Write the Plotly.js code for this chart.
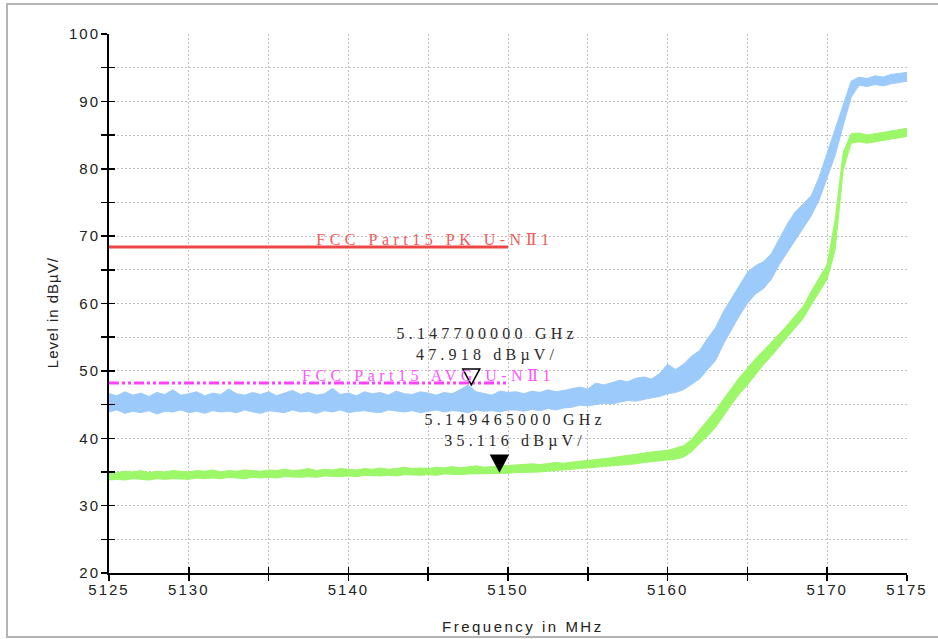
<!DOCTYPE html>
<html><head><meta charset="utf-8">
<script src="https://cdn.plot.ly/plotly-3.0.1.min.js"></script>
<style>
html,body{margin:0;padding:0;background:#fff;overflow:hidden}
#wrap{position:relative;width:938px;height:639px}
#chart{position:absolute;left:0;top:0;width:938px;height:639px}
#frame{position:absolute;left:6px;top:3px;width:940px;height:635px;border-left:2px solid #b4b4b4;border-top:2px solid #b4b4b4;border-bottom:2px solid #b4b4b4;pointer-events:none;box-sizing:border-box}
.xtick text,.ytick text{letter-spacing:2px}
</style>
</head><body>
<div id="wrap"><div id="chart"></div><div id="frame"></div></div>
<script>
// Frequency axis (MHz)
const freq = [
5125,5125.5,5126,5126.5,5127,5127.5,5128,5128.5,5129,5129.5,
5130,5130.5,5131,5131.5,5132,5132.5,5133,5133.5,5134,5134.5,
5135,5135.5,5136,5136.5,5137,5137.5,5138,5138.5,5139,5139.5,
5140,5140.5,5141,5141.5,5142,5142.5,5143,5143.5,5144,5144.5,
5145,5145.5,5146,5146.5,5147,5147.5,5148,5148.5,5149,5149.5,
5150,5150.5,5151,5151.5,5152,5152.5,5153,5153.5,5154,5154.5,
5155,5155.5,5156,5156.5,5157,5157.5,5158,5158.5,5159,5159.5,
5160,5160.5,5161,5161.5,5162,5162.5,5163,5163.5,5164,5164.5,
5165,5165.5,5166,5166.5,5167,5167.5,5168,5168.5,5169,5169.5,
5170,5170.5,5171,5171.5,5172,5172.5,5173,5173.5,5174,5174.5,
5175];
// Peak trace (blue) band: upper / lower envelope (dBuV)
const peakHi = [
46.6,46.3,46.9,46.4,46.7,46.2,46.8,46.5,47.2,46.4,
46.6,46.9,46.3,46.7,46.5,47.3,46.6,46.4,46.8,46.5,
46.9,46.3,46.7,47.1,46.5,46.8,46.4,46.6,47.4,46.5,
46.7,46.3,46.9,46.6,46.8,46.4,47.0,46.6,46.5,46.9,
46.7,46.4,46.8,46.6,47.2,47.9,46.9,46.7,46.4,47.0,
46.8,46.9,46.6,47.0,46.8,47.2,46.9,47.1,47.4,47.6,
47.3,48.2,47.9,48.3,48.6,48.4,48.9,49.1,48.8,49.6,
51.0,50.2,51.0,52.2,53.0,54.8,56.4,58.8,60.8,62.8,
64.6,65.6,66.2,67.4,69.6,71.8,73.6,74.8,76.0,78.8,
82.4,85.8,89.6,93.0,93.6,93.4,93.8,93.6,94.0,94.1,
94.3];
const peakLo = [
43.9,44.2,43.7,44.0,43.8,44.1,43.6,44.0,43.9,44.2,
43.8,44.0,43.7,44.1,43.9,44.0,43.8,44.2,43.9,43.7,
44.1,44.0,43.8,44.2,43.9,44.0,43.7,44.1,43.9,44.2,
43.8,44.0,44.1,43.9,43.8,44.2,44.0,43.9,44.1,43.8,
44.0,44.2,43.9,44.1,44.0,43.8,44.2,44.0,44.1,43.9,
44.2,44.2,44.0,44.3,44.1,44.4,44.2,44.5,44.6,44.9,
44.8,45.0,45.2,45.1,45.4,45.6,45.5,45.8,46.0,46.2,
46.6,46.8,47.2,48.0,48.8,50.2,51.5,54.0,56.2,58.2,
60.0,61.4,62.2,63.6,65.8,67.6,69.4,71.2,73.0,75.4,
78.6,82.0,86.4,90.6,92.4,92.2,92.5,92.3,92.6,92.8,
93.0];
// Average trace (green) band
const avgHi = [
35.0,34.9,35.1,35.0,35.2,34.9,35.1,35.0,35.2,35.1,
35.0,35.2,35.1,35.3,35.0,35.2,35.1,35.3,35.2,35.1,
35.3,35.2,35.4,35.2,35.3,35.5,35.2,35.4,35.3,35.5,
35.4,35.3,35.5,35.4,35.6,35.4,35.5,35.7,35.5,35.6,
35.5,35.7,35.6,35.8,35.6,35.7,35.9,35.7,35.8,35.9,
36.0,36.0,36.1,36.2,36.1,36.3,36.4,36.3,36.5,36.6,
36.7,36.8,36.9,37.1,37.3,37.4,37.6,37.8,38.0,38.1,
38.2,38.5,38.9,39.8,41.2,42.6,44.1,45.8,47.4,49.0,
50.4,51.8,53.0,54.2,55.5,56.8,58.2,59.6,61.8,63.8,
65.8,72.5,82.4,85.2,85.3,85.0,85.2,85.4,85.6,85.8,
86.0];
const avgLo = [
33.8,33.9,33.8,34.0,33.9,33.8,34.0,33.9,34.0,34.0,
33.9,34.1,34.0,34.1,34.0,34.2,34.1,34.0,34.2,34.1,
34.2,34.1,34.3,34.2,34.2,34.3,34.2,34.4,34.3,34.3,
34.4,34.3,34.5,34.4,34.4,34.5,34.4,34.6,34.5,34.5,
34.6,34.5,34.7,34.6,34.6,34.7,34.7,34.8,34.7,34.8,
34.8,34.9,34.9,35.0,35.0,35.1,35.2,35.2,35.3,35.4,
35.5,35.6,35.7,35.8,36.0,36.1,36.2,36.4,36.5,36.6,
36.7,36.9,37.2,38.0,39.2,40.3,41.6,43.4,45.0,46.6,
47.9,49.4,50.9,52.2,53.6,54.9,56.3,57.8,59.8,61.8,
63.6,68.0,79.8,83.8,84.0,83.8,84.0,84.2,84.4,84.6,
84.8];
// Limit lines
const limitFreq = [5125, 5150];
const pkLimit = 68.4;
const avgLimit = 48.2;
const pkLabel = "FCC Part15 PK U-N\u21611";
const avgLabel = "FCC Part15 AVG U-N\u21611";
// Markers
const markerFreq = [5147.7, 5149.465];
const markerLevel = [47.918, 35.116];
const markerText = ["5.147700000 GHz<br>47.918 dB\u00b5V/", "5.149465000 GHz<br>35.116 dB\u00b5V/"];
const markerFilled = [false, true];
// Ticks
const xTickVals = [5125,5130,5135,5140,5145,5150,5155,5160,5165,5170,5175];
const xTickText = ["5125","5130","","5140","","5150","","5160","","5170","5175"];
const yTickVals = [20,25,30,35,40,45,50,55,60,65,70,75,80,85,90,95,100];
const yTickText = ["20","","30","","40","","50","","60","","70","","80","","90","","100"];

const BLUE = "#9ccbfb", GREEN = "#9cf769";
const traces = [
  {x: freq, y: peakLo, mode: "lines", line: {color: BLUE, width: 1}, hoverinfo: "skip"},
  {x: freq, y: peakHi, mode: "lines", line: {color: BLUE, width: 1}, fill: "tonexty", fillcolor: BLUE, hoverinfo: "skip"},
  {x: freq, y: avgLo, mode: "lines", line: {color: GREEN, width: 1}, hoverinfo: "skip"},
  {x: freq, y: avgHi, mode: "lines", line: {color: GREEN, width: 1}, fill: "tonexty", fillcolor: GREEN, hoverinfo: "skip"},
  {x: limitFreq, y: limitFreq.map(() => pkLimit), mode: "lines", line: {color: "#ee4646", width: 3}},
  {x: limitFreq, y: limitFreq.map(() => avgLimit), mode: "lines", line: {color: "#ff40ff", width: 3, dash: "10px,3px,3px,3px,3px,3px"}},
  {x: [], y: [], xaxis: "x2", yaxis: "y2", mode: "lines"}
];

const shapes = markerFreq.map((f, i) => ({
  type: "path", xref: "x", yref: "y", xsizemode: "pixel", ysizemode: "pixel",
  xanchor: f, yanchor: markerLevel[i],
  path: "M-8.5,16 L8.5,16 L0,0 Z",
  fillcolor: markerFilled[i] ? "#000" : "#fff",
  line: {color: "#000", width: 1.5}, layer: "above"
}));

const annFont = {family: "Liberation Serif, DejaVu Serif, serif", size: 16};
const annotations = [
  {x: 5145.4, y: pkLimit, xref: "x", yref: "y", text: pkLabel, showarrow: false, yanchor: "bottom", yshift: -3,
   font: Object.assign({}, annFont, {color: "#f05a5a"})},
  {x: 5145.0, y: avgLimit, xref: "x", yref: "y", text: avgLabel, showarrow: false, yanchor: "bottom", yshift: -3,
   font: Object.assign({}, annFont, {color: "#ff55ff"})},
  ...markerFreq.map((f, i) => ({x: f, y: markerLevel[i], xref: "x", yref: "y", text: markerText[i], showarrow: false,
    yanchor: "bottom", yshift: 19, xshift: 16, align: "center", font: Object.assign({}, annFont, {color: "#2a2a2a"})})),
  {x: 0.519, y: -0.1, xref: "paper", yref: "paper", text: "Frequency in MHz", showarrow: false, yanchor: "middle",
   font: {family: "Liberation Sans, Arial, sans-serif", size: 15, color: "#222"}},
  {x: -0.0714, y: 0.484, xref: "paper", yref: "paper", text: "Level in dB\u00b5V/", showarrow: false, textangle: -90,
   xanchor: "center", yanchor: "middle", font: {family: "Liberation Sans, Arial, sans-serif", size: 15, color: "#222"}}
];

const gridStyle = {showgrid: true, gridcolor: "#c2c2c2", gridwidth: 1, griddash: "2px,2px"};
const layout = {
  width: 938, height: 639,
  margin: {l: 109, r: 31, t: 34, b: 66},
  paper_bgcolor: "#fff", plot_bgcolor: "#fff",
  showlegend: false,
  font: {family: "Liberation Sans, Arial, sans-serif", size: 15, color: "#222"},
  xaxis: Object.assign({range: [5125, 5175], tickmode: "array", tickvals: xTickVals, ticktext: xTickText,
    ticks: "outside", ticklen: 6, tickwidth: 1.5, tickcolor: "#000", showline: true, linecolor: "#000", linewidth: 2,
    ticklabelstandoff: -4,
    zeroline: false, tickfont: {size: 15, color: "#222"}}, gridStyle),
  yaxis: Object.assign({range: [20, 100], tickmode: "array", tickvals: yTickVals, ticktext: yTickText,
    ticks: "outside", ticklen: 6, tickwidth: 1.5, tickcolor: "#000", showline: true, linecolor: "#000", linewidth: 2,
    ticklabelstandoff: -2,
    zeroline: false, tickfont: {size: 15, color: "#222"}}, gridStyle),
  xaxis2: {range: [5125, 5175], overlaying: "x", anchor: "y2", side: "bottom", tickmode: "array", tickvals: xTickVals,
    showticklabels: false, ticks: "inside", ticklen: 6, tickwidth: 1.5, tickcolor: "#000", showgrid: false, showline: false, zeroline: false},
  yaxis2: {range: [20, 100], overlaying: "y", anchor: "x2", side: "left", tickmode: "array", tickvals: yTickVals,
    showticklabels: false, ticks: "inside", ticklen: 6, tickwidth: 1.5, tickcolor: "#000", showgrid: false, showline: false, zeroline: false},
  shapes: shapes,
  annotations: annotations
};

Plotly.newPlot("chart", traces, layout, {staticPlot: true, displayModeBar: false}).then(() => {
  document.querySelectorAll(".annotation-text").forEach(t => {
    const s = t.textContent;
    if (s.indexOf("FCC") === 0) t.style.letterSpacing = "4.5px";
    else if (s.indexOf("GHz") >= 0) t.style.letterSpacing = "4.2px";
    else if (s.indexOf("Frequency") === 0) t.style.letterSpacing = "2.5px";
    else if (s.indexOf("Level") === 0) t.style.letterSpacing = "1px";
  });
});
</script>
</body></html>
